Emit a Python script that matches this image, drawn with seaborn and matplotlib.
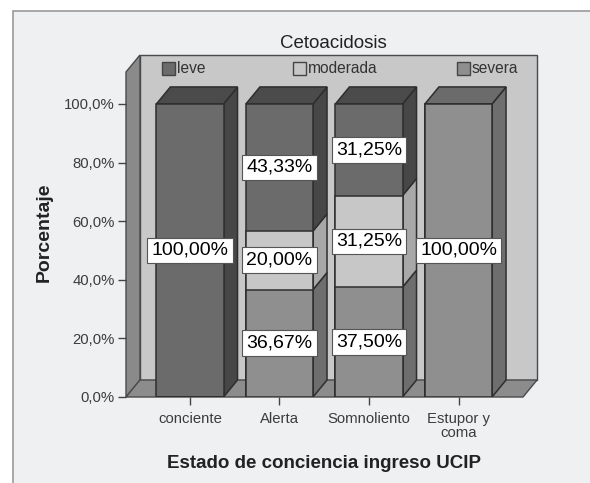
import matplotlib
matplotlib.use('Agg')
import matplotlib.pyplot as plt
import seaborn as sns
import pandas as pd
from matplotlib.patches import Polygon, Rectangle

sns.set_style('white')
plt.rcParams['font.family'] = ['Liberation Sans', 'DejaVu Sans']

# data
categories = ['conciente', 'Alerta', 'Somnoliento', 'Estupor y\ncoma']
severa = [0.0, 36.67, 37.50, 100.0]
moderada = [0.0, 20.00, 31.25, 0.0]
leve = [100.0, 43.33, 31.25, 0.0]
series = ['leve', 'moderada', 'severa']
yticks = [0, 20, 40, 60, 80, 100]
ytick_labels = ['0,0%', '20,0%', '40,0%', '60,0%', '80,0%', '100,0%']

front = {'leve': '#6b6b6b', 'moderada': '#c7c7c7', 'severa': '#8f8f8f'}
side = {'leve': '#474747', 'moderada': '#a8a8a8', 'severa': '#6e6e6e'}
top = {'leve': '#4b4b4b', 'moderada': '#a8a8a8', 'severa': '#6b6b6b'}
edge = '#2e2e2e'

W, H = 590, 483
fx = lambda px: px / W
fy = lambda py: 1 - py / H

fig = plt.figure(figsize=(W / 100, H / 100), dpi=100, facecolor='white')
fig.add_artist(Rectangle((fx(13), -0.05), 1.1, fy(11) + 0.05, transform=fig.transFigure,
                         facecolor='#eff0f2', edgecolor='#9a9a9a', lw=1.2, zorder=-10))

ax = fig.add_axes([fx(126), fy(397), 411 / W, 342 / H])
ax.set_facecolor('none')

df = pd.DataFrame({'cat': categories, 'severa': severa, 'moderada': moderada, 'leve': leve})
df['c_sev'] = df['severa']
df['c_mod'] = df['c_sev'] + df['moderada']
df['c_leve'] = df['c_mod'] + df['leve']

bw = 0.75
for col, s in [('c_leve', 'leve'), ('c_mod', 'moderada'), ('c_sev', 'severa')]:
    sns.barplot(data=df, x='cat', y=col, color=front[s], saturation=1, width=bw,
                edgecolor=edge, linewidth=1.1, errorbar=None, ax=ax, zorder=3)

x0, x1 = -0.715, 3.877
ymax = 116.7
dx, dy = 0.156, 5.8
ax.set_xlim(x0, x1)
ax.set_ylim(0, ymax)

# walls and floor
wall_kw = dict(edgecolor='#4a4a4a', lw=1, zorder=0.5, clip_on=False)
ax.add_patch(Polygon([(x0 + dx, dy), (x1, dy), (x1, ymax), (x0 + dx, ymax)], facecolor='#c8c8c8', **wall_kw))
ax.add_patch(Polygon([(x0, 0), (x0 + dx, dy), (x0 + dx, ymax), (x0, ymax - dy)], facecolor='#8a8a8a', **wall_kw))
ax.add_patch(Polygon([(x0, 0), (x1 - dx, 0), (x1, dy), (x0 + dx, dy)], facecolor='#8c8c8c', **wall_kw))

# 3d faces and labels
for i in range(len(categories)):
    xl, xr = i - bw / 2, i + bw / 2
    b = 0.0
    for s, vals in [('severa', severa), ('moderada', moderada), ('leve', leve)]:
        h = vals[i]
        if h <= 0:
            continue
        t = b + h
        ax.add_patch(Polygon([(xr, b), (xr + dx, b + dy), (xr + dx, t + dy), (xr, t)],
                             facecolor=side[s], edgecolor=edge, lw=1.1, zorder=2.5))
        ax.text(i, (b + t) / 2, f'{h:.2f}%'.replace('.', ','), ha='center', va='center',
                fontsize=14, color='black', zorder=6,
                bbox=dict(boxstyle='square,pad=0.22', facecolor='white', edgecolor='#555555', lw=0.8))
        b = t
        last = s
    ax.add_patch(Polygon([(xl, b), (xl + dx, b + dy), (xr + dx, b + dy), (xr, b)],
                         facecolor=top[last], edgecolor=edge, lw=1.1, zorder=2.5))

for sp in ax.spines.values():
    sp.set_visible(False)
ax.set_yticks(yticks)
ax.set_yticklabels(ytick_labels)
ax.set_xticks(range(len(categories)))
ax.set_xticklabels(categories, linespacing=0.95)
ax.tick_params(axis='y', left=True, length=6, width=1, color='#444444', pad=2,
               labelsize=10.7, labelcolor='#3c3c3c')
ax.tick_params(axis='x', bottom=True, length=6, width=1, color='#444444', pad=5,
               labelsize=10.7, labelcolor='#3c3c3c')
ax.set_xlabel('')
ax.set_ylabel('')

fig.text(fx(333), fy(43), 'Cetoacidosis', ha='center', va='center', fontsize=13.5, color='#222222')
fig.text(fx(44), fy(232), 'Porcentaje', ha='center', va='center', rotation=90,
         fontsize=14, fontweight='bold', color='#222222')
fig.text(fx(324), fy(463), 'Estado de conciencia ingreso UCIP', ha='center', va='center',
         fontsize=13.5, fontweight='bold', color='#222222')

# legend
for s, px in zip(series, [162, 293, 457]):
    fig.add_artist(Rectangle((fx(px), fy(75)), 13 / W, 13 / H, transform=fig.transFigure,
                             facecolor=front[s], edgecolor='#444444', lw=1))
    fig.text(fx(px + 15), fy(69), s, ha='left', va='center', fontsize=11.2, color='#333333')

fig.savefig('out.png', dpi=100, facecolor=fig.get_facecolor())
